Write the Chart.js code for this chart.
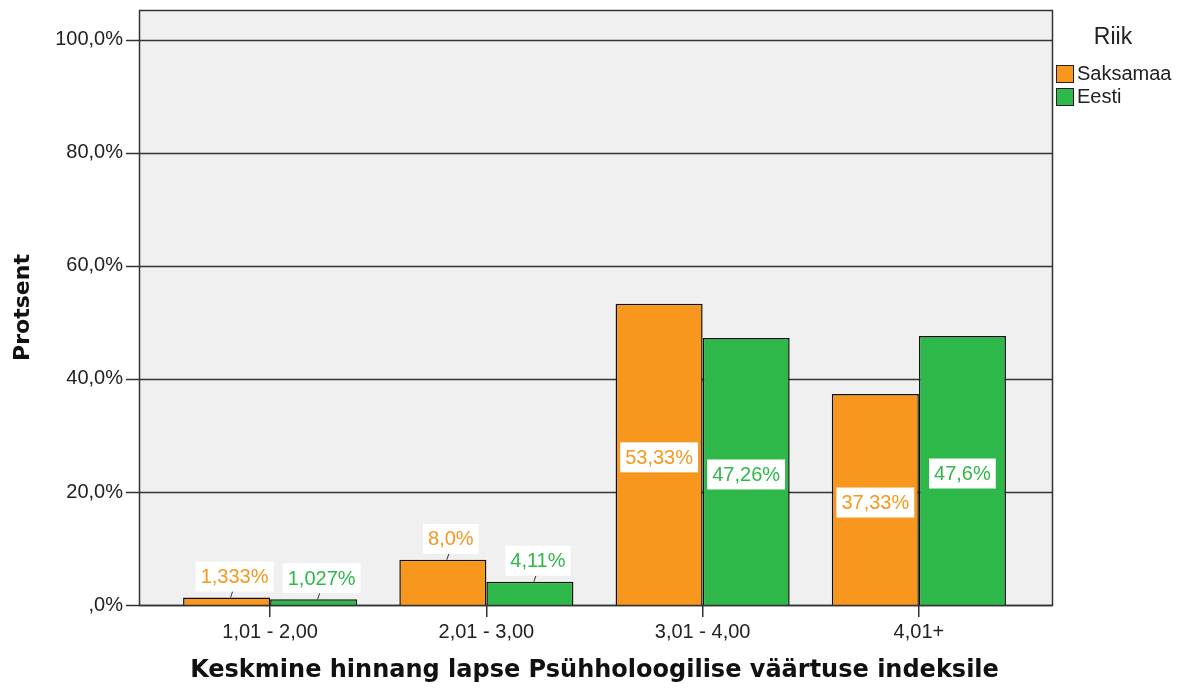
<!DOCTYPE html>
<html>
<head>
<meta charset="utf-8">
<script src="https://cdn.jsdelivr.net/npm/chart.js@4"></script>
<style>
  html, body { margin: 0; padding: 0; background: #fff; }
  #wrap { width: 1185px; height: 690px; }
</style>
</head>
<body>
<div id="wrap"><canvas id="chart" width="1185" height="690"></canvas></div>
<script>
// data
const categories = ['1,01 - 2,00', '2,01 - 3,00', '3,01 - 4,00', '4,01+'];
const saksamaa = [1.333, 8.0, 53.33, 37.33];
const eesti = [1.027, 4.11, 47.26, 47.6];
const saksamaaLabels = ['1,333%', '8,0%', '53,33%', '37,33%'];
const eestiLabels = ['1,027%', '4,11%', '47,26%', '47,6%'];
const seriesNames = ['Saksamaa', 'Eesti'];
const legendTitle = 'Riik';
const yTitle = 'Protsent';
const xTitle = 'Keskmine hinnang lapse Psühholoogilise väärtuse indeksile';

const ORANGE = '#F7971E';
const GREEN = '#2FB84A';
const SANS = '"Liberation Sans", Arial, sans-serif';

// SPSS-ish frame: grey plot background wider than the category area,
// gridlines, y tick marks, data labels and the legend on the right
const spssFrame = {
  id: 'spssFrame',
  beforeDraw(chart) {
    const ctx = chart.ctx;
    const ca = chart.chartArea;
    const y = chart.scales.y;
    const left = ca.left - 23, right = ca.right + 25;
    ctx.save();
    ctx.fillStyle = '#fff';
    ctx.fillRect(0, 0, chart.width, chart.height);
    ctx.fillStyle = '#F0F0F0';
    ctx.fillRect(left, ca.top, right - left, ca.bottom - ca.top);
    ctx.strokeStyle = '#333';
    ctx.lineWidth = 1.5;
    y.ticks.forEach(t => {
      const py = Math.round(y.getPixelForValue(t.value)) + 0.5;
      ctx.beginPath();
      ctx.moveTo(left - 13, py);
      ctx.lineTo(right, py);
      ctx.stroke();
    });
    ctx.restore();
  },
  afterDatasetsDraw(chart) {
    const ctx = chart.ctx;
    const ca = chart.chartArea;
    const left = ca.left - 23, right = ca.right + 25;
    ctx.save();
    // frame
    ctx.strokeStyle = '#333';
    ctx.lineWidth = 1.5;
    ctx.strokeRect(left + 0.5, ca.top + 0.5, right - left, ca.bottom - ca.top);

    // data labels
    const allLabels = [saksamaaLabels, eestiLabels];
    ctx.font = '20px ' + SANS;
    ctx.textAlign = 'center';
    ctx.textBaseline = 'middle';
    chart.data.datasets.forEach((ds, di) => {
      const meta = chart.getDatasetMeta(di);
      meta.data.forEach((bar, i) => {
        const txt = allLabels[di][i];
        const w = ctx.measureText(txt).width + 10;
        const h = 30;
        let cx, cy;
        const big = ds.data[i] > 20;
        if (big) {
          cx = bar.x;
          cy = (bar.y + bar.base) / 2 + 3;
        } else {
          cx = bar.x + 8;
          cy = bar.y - 21;
          ctx.strokeStyle = '#333';
          ctx.lineWidth = 1;
          ctx.beginPath();
          ctx.moveTo(bar.x + 4, bar.y);
          ctx.lineTo(bar.x + 6, cy + h / 2);
          ctx.stroke();
        }
        ctx.fillStyle = '#fff';
        ctx.fillRect(cx - w / 2, cy - h / 2, w, h);
        ctx.fillStyle = ds.backgroundColor;
        ctx.fillText(txt, cx, cy + 1);
      });
    });

    // legend
    ctx.fillStyle = '#222';
    ctx.font = '23px ' + SANS;
    ctx.textAlign = 'center';
    ctx.fillText(legendTitle, 1113, 38);
    ctx.font = '20px ' + SANS;
    ctx.textAlign = 'left';
    chart.data.datasets.forEach((ds, di) => {
      const sy = 65 + di * 23;
      ctx.fillStyle = ds.backgroundColor;
      ctx.fillRect(1056, sy, 17, 17);
      ctx.strokeStyle = '#222';
      ctx.lineWidth = 1;
      ctx.strokeRect(1056.5, sy + 0.5, 17, 17);
      ctx.fillStyle = '#222';
      ctx.fillText(ds.label, 1077, sy + 9.5);
    });
    ctx.restore();
  }
};

new Chart(document.getElementById('chart'), {
  type: 'bar',
  data: {
    labels: categories,
    datasets: [
      { label: seriesNames[0], data: saksamaa, backgroundColor: ORANGE, borderColor: '#111', borderWidth: 1.5 },
      { label: seriesNames[1], data: eesti, backgroundColor: GREEN, borderColor: '#111', borderWidth: 1.5 }
    ]
  },
  options: {
    responsive: false,
    animation: false,
    layout: { padding: { top: 10, right: 158, bottom: 0, left: 0 } },
    datasets: { bar: { categoryPercentage: 0.805, barPercentage: 1 } },
    plugins: { legend: { display: false }, tooltip: { enabled: false } },
    scales: {
      x: {
        grid: { display: true, drawOnChartArea: false, drawTicks: true, tickLength: 12, offset: false, color: '#333', lineWidth: 1.5 },
        border: { display: false },
        ticks: { font: { family: SANS, size: 20 }, color: '#222', padding: 3, maxRotation: 0 },
        title: {
          display: true, text: xTitle, color: '#111',
          font: { family: '"DejaVu Sans", sans-serif', size: 24, weight: 'bold' },
          padding: { top: 0, bottom: 5 }
        },
        afterFit(scale) { scale.height = 85; }
      },
      y: {
        min: 0,
        max: 105.3,
        grid: { display: false, drawTicks: false },
        border: { display: false },
        ticks: {
          stepSize: 20,
          includeBounds: false,
          padding: 39,
          color: '#222',
          font: { family: SANS, size: 20 },
          callback: v => v === 0 ? ',0%' : v.toFixed(1).replace('.', ',') + '%'
        },
        title: {
          display: true, text: yTitle, color: '#111',
          font: { family: '"DejaVu Sans", sans-serif', size: 22, weight: 'bold' },
          padding: { top: 10, bottom: 0 }
        },
        // fixed width; the big tick padding must not push the plot down
        afterFit(scale) {
          scale.width = 162;
          scale.paddingTop = 0;
          scale.paddingBottom = 0;
        }
      }
    }
  },
  plugins: [spssFrame]
});
</script>
</body>
</html>
